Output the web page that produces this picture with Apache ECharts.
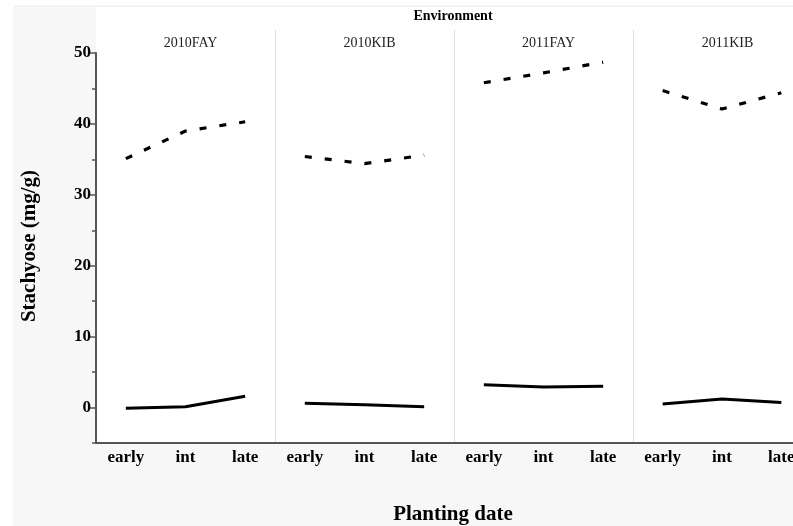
<!DOCTYPE html>
<html>
<head>
<meta charset="utf-8">
<script src="https://cdn.jsdelivr.net/npm/echarts@6/dist/echarts.min.js"></script>
<style>html,body{margin:0;padding:0;background:#fff;overflow:hidden;width:793px;height:526px;}#c{width:811px;height:526px;}</style>
</head>
<body>
<div id="c"></div>
<script>
const categories = ['early', 'int', 'late'];
const environments = ['2010FAY', '2010KIB', '2011FAY', '2011KIB'];
const dashedValues = [
  [35.1, 39.0, 40.3],
  [35.4, 34.4, 35.6],
  [45.8, 47.2, 48.7],
  [44.7, 42.1, 44.4]
];
const solidValues = [
  [-0.1, 0.1, 1.6],
  [0.6, 0.4, 0.1],
  [3.2, 2.9, 3.0],
  [0.5, 1.2, 0.7]
];
const majorTicks = [0, 10, 20, 30, 40, 50];
const minorTicks = [-5, 5, 15, 25, 35, 45];

const chart = echarts.init(document.getElementById('c'), null, {renderer: 'canvas'});
const FONT = '"Liberation Serif","Times New Roman",serif';
const W = 811, H = 526;
const plotLeft = 96, panelW = 179, plotTop = 53, plotBottom = 443;

const grids = [], xAxes = [], yAxes = [], series = [], titles = [];
environments.forEach((env, i) => {
  const left = plotLeft + panelW * i;
  grids.push({left: left, width: panelW, top: plotTop, bottom: H - plotBottom, containLabel: false});
  xAxes.push({
    type: 'category', gridIndex: i, data: categories, boundaryGap: true,
    axisLine: {show: true, onZero: false, lineStyle: {color: '#555', width: 2}},
    axisTick: {show: false},
    axisLabel: {color: '#000', fontFamily: FONT, fontWeight: 'bold', fontSize: 17, margin: 6}
  });
  yAxes.push({
    type: 'value', gridIndex: i, min: -5, max: 50, interval: 5, show: i === 0, position: 'left',
    axisLine: {show: true, lineStyle: {color: '#555', width: 2}},
    axisTick: {show: true, length: 7, customValues: majorTicks, lineStyle: {color: '#555', width: 1.5}},
    axisLabel: {show: true, customValues: majorTicks, color: '#000', fontFamily: FONT, fontWeight: 'bold', fontSize: 17, margin: 5},
    splitLine: {show: false}
  });
  titles.push({
    text: env, left: left + panelW / 2, top: 31, textAlign: 'center',
    textStyle: {fontFamily: FONT, fontWeight: 'normal', fontSize: 14, color: '#222'}
  });
  series.push({
    type: 'line', xAxisIndex: i, yAxisIndex: i, data: dashedValues[i],
    showSymbol: false, symbol: 'none', silent: true,
    lineStyle: {color: '#000', width: 3.2, type: [7, 13], cap: 'butt'}
  });
  series.push({
    type: 'line', xAxisIndex: i, yAxisIndex: i, data: solidValues[i],
    showSymbol: false, symbol: 'none', silent: true,
    lineStyle: {color: '#000', width: 3}
  });
});
// minor ticks axis on first panel
yAxes.push({
  type: 'value', gridIndex: 0, min: -5, max: 50, interval: 5, position: 'left',
  axisLine: {show: false},
  axisTick: {show: true, length: 4, customValues: minorTicks, lineStyle: {color: '#555', width: 1.5}},
  axisLabel: {show: false},
  splitLine: {show: false}
});

const graphics = [
  {type: 'rect', z: -10, shape: {x: 13, y: 6, width: W - 13, height: H - 6}, style: {fill: '#f7f7f7'}},
  {type: 'line', z: -9, shape: {x1: 13, y1: 6, x2: W, y2: 6}, style: {stroke: '#ececec', lineWidth: 1}},
  {type: 'rect', z: -8, shape: {x: plotLeft, y: 7, width: W - plotLeft, height: plotBottom - 7}, style: {fill: '#fff'}},
  {type: 'text', x: 453, y: 16, style: {text: 'Environment', font: 'bold 14px ' + FONT, fill: '#000', textAlign: 'center', textVerticalAlign: 'middle'}},
  {type: 'text', rotation: Math.PI / 2, x: 30, y: 246, style: {text: 'Stachyose (mg/g)', font: 'bold 21px ' + FONT, fill: '#000', textAlign: 'center', textVerticalAlign: 'middle'}},
  {type: 'text', x: 453, y: 515, style: {text: 'Planting date', font: 'bold 21px ' + FONT, fill: '#000', textAlign: 'center', textVerticalAlign: 'middle'}}
];
for (let i = 1; i < environments.length; i++) {
  const x = plotLeft + panelW * i + 0.5;
  graphics.push({type: 'line', z: -5, shape: {x1: x, y1: 30, x2: x, y2: plotBottom}, style: {stroke: '#ddd', lineWidth: 1}});
}

chart.setOption({
  backgroundColor: 'transparent',
  animation: false,
  title: titles,
  grid: grids,
  xAxis: xAxes,
  yAxis: yAxes,
  series: series,
  graphic: graphics
});
</script>
</body>
</html>
